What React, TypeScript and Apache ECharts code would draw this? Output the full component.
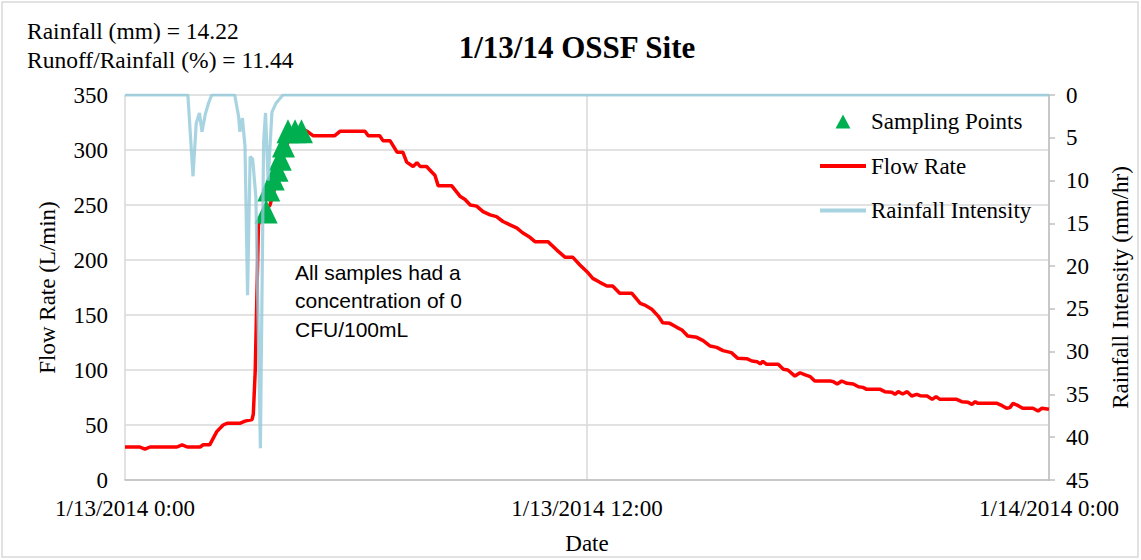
import React, { useEffect, useRef } from "react";
import * as echarts from "echarts";

// Minutes after 1/13/2014 0:00 and flow rate (L/min)
const flowMinutes = [
  0, 23, 31, 39, 81, 89, 97, 117, 122, 132, 143, 153, 159, 179, 187, 198, 200, 203, 208, 213,
  226, 238, 249, 260, 273, 284, 293, 327, 335, 374, 379, 397, 402, 413, 424, 433, 439, 449, 455, 460,
  470, 478, 483, 488, 509, 522, 530, 538, 548, 558, 569, 579, 589, 600, 611, 619, 631, 639, 659, 673,
  686, 698, 709, 720, 729, 740, 751, 760, 771, 790, 803, 810, 821, 831, 838, 849, 860, 868, 877, 891,
  901, 912, 922, 932, 945, 955, 969, 977, 985, 990, 994, 1000, 1018, 1026, 1033, 1044, 1052, 1060, 1068, 1075,
  1099, 1104, 1110, 1117, 1125, 1135, 1143, 1150, 1156, 1177, 1184, 1195, 1200, 1205, 1212, 1219, 1226, 1234, 1239, 1250,
  1258, 1264, 1270, 1296, 1304, 1314, 1320, 1325, 1329, 1359, 1367, 1374, 1379, 1384, 1392, 1399, 1415, 1423, 1429, 1440,
];
const flowRate = [
  30, 30, 28, 30, 30, 32, 30, 30, 32, 32, 44, 50, 51.5, 51.5, 53.5, 55, 60, 100, 232, 240,
  250, 275, 300, 316, 320, 317, 313, 313, 317, 317, 313, 313, 308.5, 308.5, 298, 298, 289, 285, 288.5, 285,
  285, 280, 277, 267.6, 267.6, 258, 255, 250, 249, 244, 241, 239.4, 235, 232, 229, 225, 220.6, 216.7, 216.7, 209,
  202.4, 202.4, 195.5, 189.4, 183.3, 179.7, 176.4, 176.4, 169.7, 169.7, 160.6, 159, 155.2, 149, 143, 142.4, 138.8, 136.4, 130.9, 129.7,
  126.7, 121.8, 120.6, 117.6, 115.8, 110.6, 110.3, 108.2, 107.6, 105.5, 107.9, 105.2, 105.2, 100.6, 100, 94.5, 97.5, 95.5, 93.9, 90,
  90, 89.4, 87.3, 90, 87.9, 87.3, 84.8, 84.2, 82.4, 82.4, 80.3, 79.7, 77.9, 80.3, 78.2, 80.3, 76.4, 77.9, 76.7, 76.4,
  73.3, 75.8, 73.3, 73.3, 71.2, 70.6, 68.8, 71.2, 69.7, 69.7, 67.6, 65.2, 65.8, 69.7, 67.6, 65.2, 65.2, 62.7, 65.2, 64.3,
];

// Minutes after 1/13/2014 0:00 and rainfall intensity (mm/hr)
const rainMinutes = [
  0, 98, 106, 111, 116, 120, 125, 130, 135, 171, 177, 179, 183, 187, 191, 195, 199, 204, 211, 216,
  219, 223, 229, 235, 246, 1440,
];
const rainIntensity = [
  0, 0, 9.5, 3.3, 2.1, 4.3, 2.3, 1.0, 0, 0, 2.5, 4.3, 2.7, 6, 23.4, 7.2, 7.5, 12, 41.3, 5.5,
  2.1, 10, 2, 1, 0, 0,
];

// Sampling points: minutes after 1/13/2014 0:00 and flow rate (L/min)
const sampleMinutes = [220, 224, 231, 237, 242, 247, 254, 265, 275];
const sampleFlow = [244, 264, 274, 282, 292, 304, 317, 317, 317];

const xTickLabels = ["1/13/2014 0:00", "1/13/2014 12:00", "1/14/2014 0:00"];
const summaryLines = ["Rainfall (mm) = 14.22", "Runoff/Rainfall (%) = 11.44"];
const noteLines = ["All samples had a", "concentration of 0", "CFU/100mL"];
const chartTitle = "1/13/14 OSSF Site";

const SERIF = "'Liberation Serif', 'Times New Roman', serif";
const SANS = "'Liberation Sans', Arial, sans-serif";

const TRIANGLE_ICON = "path://M8,0 L16,15 L0,15 Z";
const LINE_ICON = "path://M0,0 L46,0 L46,4 L0,4 Z";

export default function App() {
  const ref = useRef<HTMLDivElement>(null);

  useEffect(() => {
    const chart = echarts.init(ref.current!, null, { renderer: "svg" });
    const toH = (m: number) => m / 60;
    const flowData = flowMinutes.map((m, i) => [toH(m), flowRate[i]]);
    const rainData = rainMinutes.map((m, i) => [toH(m), rainIntensity[i]]);
    const sampleData = sampleMinutes.map((m, i) => [toH(m), sampleFlow[i]]);

    chart.setOption({
      animation: false,
      backgroundColor: "#ffffff",
      textStyle: { fontFamily: SERIF, color: "#000" },
      grid: { left: 125, right: 92, top: 95, bottom: 80, containLabel: false },
      legend: {
        orient: "vertical",
        left: 815,
        top: 105,
        itemWidth: 46,
        itemHeight: 14,
        itemGap: 21.5,
        symbolKeepAspect: true,
        itemStyle: { borderWidth: 0 },
        lineStyle: { width: 0 },
        textStyle: { fontFamily: SERIF, fontSize: 23, color: "#000" },
        data: [
          { name: "Sampling Points", icon: TRIANGLE_ICON },
          { name: "Flow Rate", icon: LINE_ICON },
          { name: "Rainfall Intensity", icon: LINE_ICON },
        ],
      },
      xAxis: {
        type: "value",
        min: 0,
        max: 24,
        interval: 12,
        name: "Date",
        nameLocation: "middle",
        nameGap: 52,
        nameTextStyle: { fontFamily: SERIF, fontSize: 23, color: "#000" },
        axisLine: { show: true, lineStyle: { color: "#bfbfbf", width: 1.5 } },
        axisTick: { show: false },
        axisLabel: {
          margin: 17,
          fontFamily: SERIF,
          fontSize: 23,
          color: "#000",
          formatter: (v: number) => xTickLabels[Math.round(v / 12)] ?? "",
        },
        splitLine: { show: true, lineStyle: { color: "#d9d9d9", width: 1.5 } },
      },
      yAxis: [
        {
          type: "value",
          min: 0,
          max: 350,
          interval: 50,
          name: "Flow Rate (L/min)",
          nameLocation: "middle",
          nameGap: 66,
          nameTextStyle: { fontFamily: SERIF, fontSize: 23, color: "#000" },
          axisLine: { show: false },
          axisTick: { show: false },
          axisLabel: { margin: 17, fontFamily: SERIF, fontSize: 23, color: "#000" },
          splitLine: { show: true, lineStyle: { color: "#d9d9d9", width: 1.5 } },
        },
        {
          type: "value",
          min: 0,
          max: 45,
          interval: 5,
          inverse: true,
          position: "right",
          name: "Rainfall Intensity (mm/hr)",
          nameLocation: "middle",
          nameGap: 60,
          nameTextStyle: { fontFamily: SERIF, fontSize: 23, color: "#000" },
          axisLine: { show: true, lineStyle: { color: "#bfbfbf", width: 1.5 } },
          axisTick: { show: true, inside: false, length: 6, lineStyle: { color: "#bfbfbf", width: 1.5 } },
          axisLabel: { margin: 17, fontFamily: SERIF, fontSize: 23, color: "#000" },
          splitLine: { show: false },
        },
      ],
      series: [
        {
          name: "Sampling Points",
          type: "scatter",
          yAxisIndex: 0,
          symbol: "triangle",
          symbolSize: [23, 24],
          itemStyle: { color: "#00B050", opacity: 1 },
          data: sampleData,
          z: 3,
        },
        {
          name: "Flow Rate",
          type: "line",
          yAxisIndex: 0,
          symbol: "none",
          lineStyle: { color: "#FF0000", width: 3.5 },
          itemStyle: { color: "#FF0000" },
          data: flowData,
          z: 2,
        },
        {
          name: "Rainfall Intensity",
          type: "line",
          yAxisIndex: 1,
          symbol: "none",
          lineStyle: { color: "#92C9DB", width: 3.2, opacity: 0.8 },
          itemStyle: { color: "#A8D4E1" },
          data: rainData,
          z: 4,
        },
      ],
      graphic: [
        {
          type: "rect",
          shape: { x: 2, y: 2, width: 1136, height: 555 },
          style: { fill: "none", stroke: "#d9d9d9", lineWidth: 1.5 },
          silent: true,
        },
        {
          type: "text",
          x: 577,
          y: 47,
          style: {
            text: chartTitle,
            font: `bold 31px ${SERIF}`,
            fill: "#000",
            textAlign: "center",
            textVerticalAlign: "middle",
          },
        },
        {
          type: "text",
          x: 27,
          y: 31,
          style: {
            text: summaryLines[0],
            font: `23.5px ${SERIF}`,
            fill: "#000",
            textAlign: "left",
            textVerticalAlign: "middle",
          },
        },
        {
          type: "text",
          x: 27,
          y: 60,
          style: {
            text: summaryLines[1],
            font: `23.5px ${SERIF}`,
            fill: "#000",
            textAlign: "left",
            textVerticalAlign: "middle",
          },
        },
        {
          type: "text",
          x: 295,
          y: 258,
          style: {
            text: noteLines.join("\n"),
            font: `21px ${SANS}`,
            lineHeight: 28.5,
            fill: "#000",
            textAlign: "left",
            textVerticalAlign: "top",
          },
        },
      ],
    });

    return () => chart.dispose();
  }, []);

  return (
    <div
      ref={ref}
      style={{ position: "absolute", left: 0, top: 0, width: 1141, height: 560 }}
    />
  );
}
